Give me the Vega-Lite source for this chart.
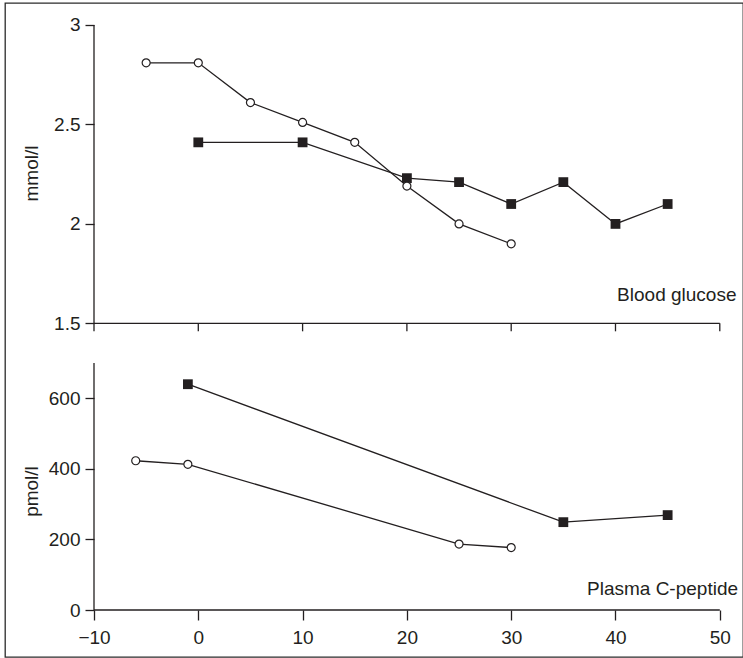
{
  "$schema": "https://vega.github.io/schema/vega-lite/v6.json",
  "autosize": {"type": "none"},
  "width": 738,
  "height": 654,
  "padding": {"left": 5, "top": 3, "right": 0, "bottom": 1},
  "background": "white",
  "config": {
    "view": {"stroke": "#2b2b2b", "strokeWidth": 1.3},
    "axis": {"grid": false, "domain": false, "tickColor": "#231f20", "tickWidth": 1.3, "labelColor": "#231f20", "labelFont": "Liberation Sans", "labelFontSize": 19, "titleFont": "Liberation Sans", "titleFontSize": 19, "titleFontWeight": "normal", "titleColor": "#231f20"},
    "text": {"font": "Liberation Sans", "fontSize": 19, "color": "#231f20"}
  },
  "datasets": {
    "glucose": [
      {"t": -5, "v": 2.81, "grp": "open"},
      {"t": 0, "v": 2.81, "grp": "open"},
      {"t": 5, "v": 2.61, "grp": "open"},
      {"t": 10, "v": 2.51, "grp": "open"},
      {"t": 15, "v": 2.41, "grp": "open"},
      {"t": 20, "v": 2.19, "grp": "open"},
      {"t": 25, "v": 2.0, "grp": "open"},
      {"t": 30, "v": 1.9, "grp": "open"},
      {"t": 0, "v": 2.41, "grp": "closed"},
      {"t": 10, "v": 2.41, "grp": "closed"},
      {"t": 20, "v": 2.23, "grp": "closed"},
      {"t": 25, "v": 2.21, "grp": "closed"},
      {"t": 30, "v": 2.1, "grp": "closed"},
      {"t": 35, "v": 2.21, "grp": "closed"},
      {"t": 40, "v": 2.0, "grp": "closed"},
      {"t": 45, "v": 2.1, "grp": "closed"}
    ],
    "cpeptide": [
      {"t": -6, "v": 423, "grp": "open"},
      {"t": -1, "v": 413, "grp": "open"},
      {"t": 25, "v": 187, "grp": "open"},
      {"t": 30, "v": 177, "grp": "open"},
      {"t": -1, "v": 640, "grp": "closed"},
      {"t": 35, "v": 249, "grp": "closed"},
      {"t": 45, "v": 269, "grp": "closed"}
    ],
    "xticks": [{"t": -10}, {"t": 0}, {"t": 10}, {"t": 20}, {"t": 30}, {"t": 40}, {"t": 50}],
    "one": [{}]
  },
  "layer": [
    {
      "layer": [
        {
          "data": {"name": "one"},
          "mark": {"type": "rule", "color": "#231f20", "strokeWidth": 1.3},
          "encoding": {
            "x": {"datum": -10, "type": "quantitative", "scale": {"domain": [-18.533, 52.225], "nice": false, "zero": false}, "axis": {"orient": "bottom", "offset": -47, "values": [-10, 0, 10, 20, 30, 40, 50], "format": "d", "tickSize": 10, "labelPadding": 8, "title": null}},
            "y": {"datum": 1.5, "type": "quantitative", "scale": {"domain": [-0.1775, 3.1106], "nice": false, "zero": false}, "axis": {"orient": "left", "offset": -89, "values": [1.5, 2, 2.5, 3], "format": ".2~g", "tickSize": 9, "labelPadding": 5, "title": "mmol/l", "titleX": -56.7, "titleY": 170, "titleAngle": -90, "titleBaseline": "alphabetic", "titleAlign": "center"}},
            "y2": {"datum": 3}
          }
        },
        {
          "data": {"name": "one"},
          "mark": {"type": "rule", "color": "#231f20", "strokeWidth": 1.3},
          "encoding": {
            "x": {"datum": -10, "type": "quantitative", "scale": {"domain": [-18.533, 52.225], "nice": false, "zero": false}, "axis": {"orient": "bottom", "offset": -47, "values": [-10, 0, 10, 20, 30, 40, 50], "format": "d", "tickSize": 10, "labelPadding": 8, "title": null}},
            "x2": {"datum": 50},
            "y": {"datum": 1.5, "type": "quantitative", "scale": {"domain": [-0.1775, 3.1106], "nice": false, "zero": false}, "axis": {"orient": "left", "offset": -89, "values": [1.5, 2, 2.5, 3], "format": ".2~g", "tickSize": 9, "labelPadding": 5, "title": "mmol/l", "titleX": -56.7, "titleY": 170, "titleAngle": -90, "titleBaseline": "alphabetic", "titleAlign": "center"}}
          }
        },
        {
          "data": {"name": "xticks"},
          "mark": {"type": "rule", "color": "#231f20", "strokeWidth": 1.3},
          "encoding": {
            "x": {"field": "t", "type": "quantitative", "scale": {"domain": [-18.533, 52.225], "nice": false, "zero": false}, "axis": {"orient": "bottom", "offset": -47, "values": [-10, 0, 10, 20, 30, 40, 50], "format": "d", "tickSize": 10, "labelPadding": 8, "title": null}},
            "y": {"datum": 1.5, "type": "quantitative", "scale": {"domain": [-0.1775, 3.1106], "nice": false, "zero": false}, "axis": {"orient": "left", "offset": -89, "values": [1.5, 2, 2.5, 3], "format": ".2~g", "tickSize": 9, "labelPadding": 5, "title": "mmol/l", "titleX": -56.7, "titleY": 170, "titleAngle": -90, "titleBaseline": "alphabetic", "titleAlign": "center"}},
            "y2": {"datum": 1.46}
          }
        },
        {
          "data": {"name": "glucose"},
          "mark": {"type": "line", "color": "#231f20", "strokeWidth": 1.3},
          "encoding": {
            "x": {"field": "t", "type": "quantitative", "scale": {"domain": [-18.533, 52.225], "nice": false, "zero": false}, "axis": {"orient": "bottom", "offset": -47, "values": [-10, 0, 10, 20, 30, 40, 50], "format": "d", "tickSize": 10, "labelPadding": 8, "title": null}},
            "y": {"field": "v", "type": "quantitative", "scale": {"domain": [-0.1775, 3.1106], "nice": false, "zero": false}, "axis": {"orient": "left", "offset": -89, "values": [1.5, 2, 2.5, 3], "format": ".2~g", "tickSize": 9, "labelPadding": 5, "title": "mmol/l", "titleX": -56.7, "titleY": 170, "titleAngle": -90, "titleBaseline": "alphabetic", "titleAlign": "center"}},
            "detail": {"field": "grp"}
          }
        },
        {
          "data": {"name": "glucose"},
          "transform": [{"filter": "datum.grp === 'closed'"}],
          "mark": {"type": "square", "color": "#231f20", "opacity": 1, "size": 96},
          "encoding": {
            "x": {"field": "t", "type": "quantitative", "scale": {"domain": [-18.533, 52.225], "nice": false, "zero": false}, "axis": {"orient": "bottom", "offset": -47, "values": [-10, 0, 10, 20, 30, 40, 50], "format": "d", "tickSize": 10, "labelPadding": 8, "title": null}},
            "y": {"field": "v", "type": "quantitative", "scale": {"domain": [-0.1775, 3.1106], "nice": false, "zero": false}, "axis": {"orient": "left", "offset": -89, "values": [1.5, 2, 2.5, 3], "format": ".2~g", "tickSize": 9, "labelPadding": 5, "title": "mmol/l", "titleX": -56.7, "titleY": 170, "titleAngle": -90, "titleBaseline": "alphabetic", "titleAlign": "center"}}
          }
        },
        {
          "data": {"name": "glucose"},
          "transform": [{"filter": "datum.grp === 'open'"}],
          "mark": {"type": "point", "shape": "circle", "filled": true, "fill": "white", "stroke": "#231f20", "strokeWidth": 1.2, "opacity": 1, "size": 64},
          "encoding": {
            "x": {"field": "t", "type": "quantitative", "scale": {"domain": [-18.533, 52.225], "nice": false, "zero": false}, "axis": {"orient": "bottom", "offset": -47, "values": [-10, 0, 10, 20, 30, 40, 50], "format": "d", "tickSize": 10, "labelPadding": 8, "title": null}},
            "y": {"field": "v", "type": "quantitative", "scale": {"domain": [-0.1775, 3.1106], "nice": false, "zero": false}, "axis": {"orient": "left", "offset": -89, "values": [1.5, 2, 2.5, 3], "format": ".2~g", "tickSize": 9, "labelPadding": 5, "title": "mmol/l", "titleX": -56.7, "titleY": 170, "titleAngle": -90, "titleBaseline": "alphabetic", "titleAlign": "center"}}
          }
        },
        {
          "data": {"name": "one"},
          "mark": {"type": "text", "text": "Blood glucose", "align": "right", "baseline": "alphabetic"},
          "encoding": {
            "x": {"datum": 51.6, "type": "quantitative", "scale": {"domain": [-18.533, 52.225], "nice": false, "zero": false}, "axis": {"orient": "bottom", "offset": -47, "values": [-10, 0, 10, 20, 30, 40, 50], "format": "d", "tickSize": 10, "labelPadding": 8, "title": null}},
            "y": {"datum": 1.614, "type": "quantitative", "scale": {"domain": [-0.1775, 3.1106], "nice": false, "zero": false}, "axis": {"orient": "left", "offset": -89, "values": [1.5, 2, 2.5, 3], "format": ".2~g", "tickSize": 9, "labelPadding": 5, "title": "mmol/l", "titleX": -56.7, "titleY": 170, "titleAngle": -90, "titleBaseline": "alphabetic", "titleAlign": "center"}}
          }
        }
      ]
    },
    {
      "layer": [
        {
          "data": {"name": "one"},
          "mark": {"type": "rule", "color": "#231f20", "strokeWidth": 1.3},
          "encoding": {
            "x": {"datum": -10, "type": "quantitative", "scale": {"domain": [-18.533, 52.225], "nice": false, "zero": false}, "axis": {"orient": "bottom", "offset": -47, "values": [-10, 0, 10, 20, 30, 40, 50], "format": "d", "tickSize": 10, "labelPadding": 8, "title": null}},
            "y": {"datum": 0, "type": "quantitative", "scale": {"domain": [-133.2, 1720.5], "nice": false, "zero": false}, "axis": {"orient": "left", "offset": -89, "values": [0, 200, 400, 600], "format": "d", "tickSize": 9, "labelPadding": 5, "title": "pmol/l", "titleX": -56.7, "titleY": 488, "titleAngle": -90, "titleBaseline": "alphabetic", "titleAlign": "center"}},
            "y2": {"datum": 700}
          }
        },
        {
          "data": {"name": "one"},
          "mark": {"type": "rule", "color": "#231f20", "strokeWidth": 1.3},
          "encoding": {
            "x": {"datum": -10, "type": "quantitative", "scale": {"domain": [-18.533, 52.225], "nice": false, "zero": false}, "axis": {"orient": "bottom", "offset": -47, "values": [-10, 0, 10, 20, 30, 40, 50], "format": "d", "tickSize": 10, "labelPadding": 8, "title": null}},
            "x2": {"datum": 50},
            "y": {"datum": 0, "type": "quantitative", "scale": {"domain": [-133.2, 1720.5], "nice": false, "zero": false}, "axis": {"orient": "left", "offset": -89, "values": [0, 200, 400, 600], "format": "d", "tickSize": 9, "labelPadding": 5, "title": "pmol/l", "titleX": -56.7, "titleY": 488, "titleAngle": -90, "titleBaseline": "alphabetic", "titleAlign": "center"}}
          }
        },
        {
          "data": {"name": "cpeptide"},
          "mark": {"type": "line", "color": "#231f20", "strokeWidth": 1.3},
          "encoding": {
            "x": {"field": "t", "type": "quantitative", "scale": {"domain": [-18.533, 52.225], "nice": false, "zero": false}, "axis": {"orient": "bottom", "offset": -47, "values": [-10, 0, 10, 20, 30, 40, 50], "format": "d", "tickSize": 10, "labelPadding": 8, "title": null}},
            "y": {"field": "v", "type": "quantitative", "scale": {"domain": [-133.2, 1720.5], "nice": false, "zero": false}, "axis": {"orient": "left", "offset": -89, "values": [0, 200, 400, 600], "format": "d", "tickSize": 9, "labelPadding": 5, "title": "pmol/l", "titleX": -56.7, "titleY": 488, "titleAngle": -90, "titleBaseline": "alphabetic", "titleAlign": "center"}},
            "detail": {"field": "grp"}
          }
        },
        {
          "data": {"name": "cpeptide"},
          "transform": [{"filter": "datum.grp === 'closed'"}],
          "mark": {"type": "square", "color": "#231f20", "opacity": 1, "size": 96},
          "encoding": {
            "x": {"field": "t", "type": "quantitative", "scale": {"domain": [-18.533, 52.225], "nice": false, "zero": false}, "axis": {"orient": "bottom", "offset": -47, "values": [-10, 0, 10, 20, 30, 40, 50], "format": "d", "tickSize": 10, "labelPadding": 8, "title": null}},
            "y": {"field": "v", "type": "quantitative", "scale": {"domain": [-133.2, 1720.5], "nice": false, "zero": false}, "axis": {"orient": "left", "offset": -89, "values": [0, 200, 400, 600], "format": "d", "tickSize": 9, "labelPadding": 5, "title": "pmol/l", "titleX": -56.7, "titleY": 488, "titleAngle": -90, "titleBaseline": "alphabetic", "titleAlign": "center"}}
          }
        },
        {
          "data": {"name": "cpeptide"},
          "transform": [{"filter": "datum.grp === 'open'"}],
          "mark": {"type": "point", "shape": "circle", "filled": true, "fill": "white", "stroke": "#231f20", "strokeWidth": 1.2, "opacity": 1, "size": 64},
          "encoding": {
            "x": {"field": "t", "type": "quantitative", "scale": {"domain": [-18.533, 52.225], "nice": false, "zero": false}, "axis": {"orient": "bottom", "offset": -47, "values": [-10, 0, 10, 20, 30, 40, 50], "format": "d", "tickSize": 10, "labelPadding": 8, "title": null}},
            "y": {"field": "v", "type": "quantitative", "scale": {"domain": [-133.2, 1720.5], "nice": false, "zero": false}, "axis": {"orient": "left", "offset": -89, "values": [0, 200, 400, 600], "format": "d", "tickSize": 9, "labelPadding": 5, "title": "pmol/l", "titleX": -56.7, "titleY": 488, "titleAngle": -90, "titleBaseline": "alphabetic", "titleAlign": "center"}}
          }
        },
        {
          "data": {"name": "one"},
          "mark": {"type": "text", "text": "Plasma C-peptide", "align": "right", "baseline": "alphabetic"},
          "encoding": {
            "x": {"datum": 51.75, "type": "quantitative", "scale": {"domain": [-18.533, 52.225], "nice": false, "zero": false}, "axis": {"orient": "bottom", "offset": -47, "values": [-10, 0, 10, 20, 30, 40, 50], "format": "d", "tickSize": 10, "labelPadding": 8, "title": null}},
            "y": {"datum": 42.5, "type": "quantitative", "scale": {"domain": [-133.2, 1720.5], "nice": false, "zero": false}, "axis": {"orient": "left", "offset": -89, "values": [0, 200, 400, 600], "format": "d", "tickSize": 9, "labelPadding": 5, "title": "pmol/l", "titleX": -56.7, "titleY": 488, "titleAngle": -90, "titleBaseline": "alphabetic", "titleAlign": "center"}}
          }
        }
      ]
    }
  ],
  "resolve": {"scale": {"y": "independent"}, "axis": {"y": "independent"}}
}
